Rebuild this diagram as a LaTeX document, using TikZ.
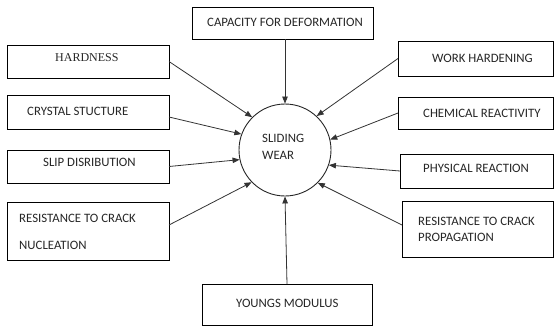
\documentclass[tikz,border=0pt]{standalone}
\usepackage{fontspec}
\setmainfont{Carlito}
\newfontfamily\timesf{Liberation Serif}
\usetikzlibrary{arrows.meta}
\tikzset{
  box/.style={draw=black, line width=0.9pt, inner sep=0pt, outer sep=0pt, anchor=north west},
  lbl/.style={inner sep=0pt, anchor=west, text=black!85, font=\fontsize{12.8}{12.8}\selectfont},
  conn/.style={draw=black!80, line width=0.8pt, -{Triangle[length=7pt,width=5.5pt]}},
}
\begin{document}
\begin{tikzpicture}[x=1pt,y=-1pt]
\useasboundingbox (0,0) rectangle (555,327);
% boxes
\node[box, minimum width=181pt, minimum height=32pt] (cap) at (192,7) {};
\node[box, minimum width=162pt, minimum height=33pt] (hard) at (7,45) {};
\node[box, minimum width=162pt, minimum height=34pt] (crys) at (7,95) {};
\node[box, minimum width=162pt, minimum height=33pt] (slip) at (7,150) {};
\node[box, minimum width=162pt, minimum height=58pt] (nuc) at (7,202) {};
\node[box, minimum width=170pt, minimum height=41pt] (young) at (202,284) {};
\node[box, minimum width=155.5pt, minimum height=35pt] (work) at (398,41) {};
\node[box, minimum width=155.5pt, minimum height=32pt] (chem) at (398,97) {};
\node[box, minimum width=153.5pt, minimum height=34pt] (phys) at (400,154) {};
\node[box, minimum width=151.5pt, minimum height=56pt] (prop) at (402,201) {};
% circle
\node[draw=black!85, line width=0.9pt, circle, minimum size=92pt, inner sep=0pt] (sw) at (285,150) {};
% labels
\node[lbl] (tcap) at (207,22) {CAPACITY FOR DEFORMATION};
\node[lbl, font=\timesf\fontsize{12}{12}\selectfont] (thard) at (55,58) {HARDNESS};
\node[lbl] (tcrys) at (27,111) {CRYSTAL STUCTURE};
\node[lbl] (tslip) at (43,162) {SLIP DISRIBUTION};
\node[lbl] (tnuc1) at (19,218) {RESISTANCE TO CRACK};
\node[lbl] (tnuc2) at (19,245) {NUCLEATION};
\node[lbl] (tyoung) at (236,303) {YOUNGS MODULUS};
\node[lbl] (twork) at (432,58) {WORK HARDENING};
\node[lbl] (tchem) at (423,113) {CHEMICAL REACTIVITY};
\node[lbl] (tphys) at (423,168) {PHYSICAL REACTION};
\node[lbl] (tprop1) at (418,221) {RESISTANCE TO CRACK};
\node[lbl] (tprop2) at (418,237) {PROPAGATION};
\node[lbl] (tsw1) at (262,138) {SLIDING};
\node[lbl] (tsw2) at (262,155) {WEAR};
% connectors
\draw[conn] ([xshift=2.5pt]cap.south) -- (sw.90);
\draw[conn] (hard.east) -- (sw.135);
\draw[conn] ([yshift=-5pt]crys.east) -- (sw.160);
\draw[conn] (slip.east) -- (sw.192);
\draw[conn] ([yshift=6pt]nuc.east) -- (sw.224);
\draw[conn] (young.north) -- (sw.270);
\draw[conn] (work.west) -- (sw.47);
\draw[conn] (chem.west) -- (sw.13);
\draw[conn] (phys.west) -- (sw.-19);
\draw[conn] ([yshift=4pt]prop.west) -- (sw.-45);
\end{tikzpicture}
\end{document}
